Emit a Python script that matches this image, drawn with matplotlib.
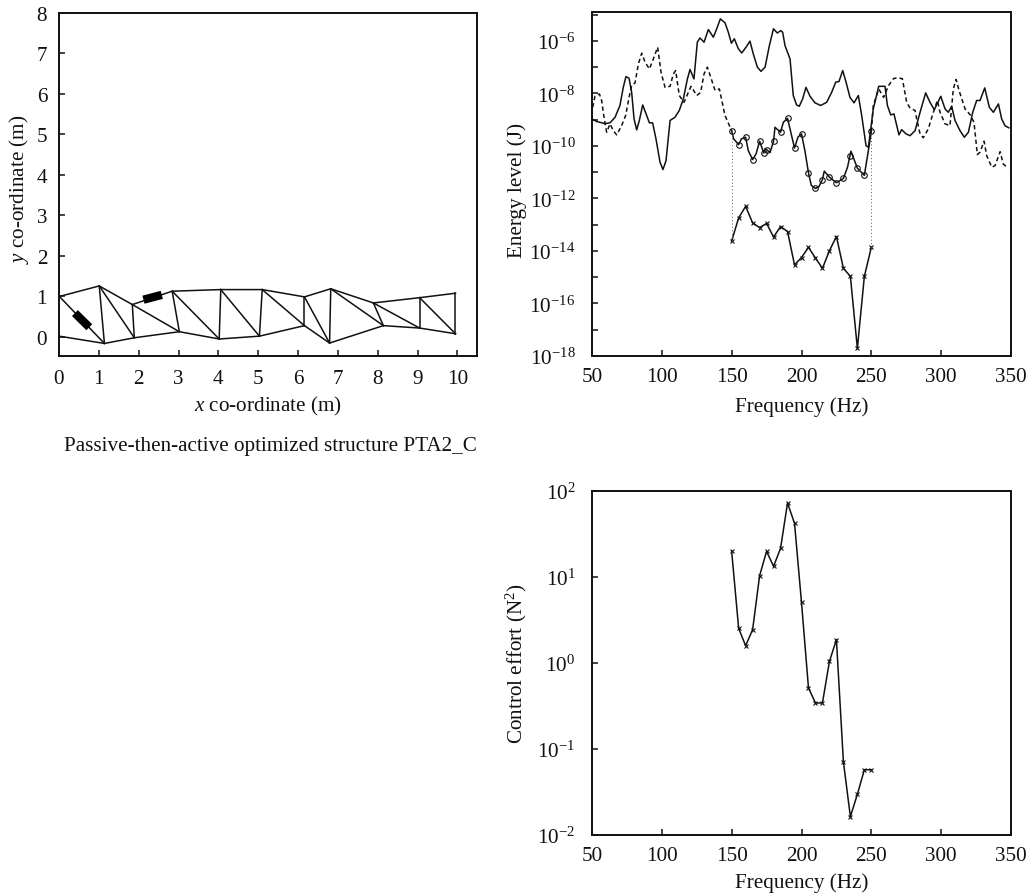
import numpy as np
import matplotlib
matplotlib.use("Agg")
import matplotlib.pyplot as plt
from matplotlib.ticker import FixedLocator, NullLocator, FuncFormatter

plt.rcParams['font.family'] = ['Liberation Serif', 'DejaVu Serif']
plt.rcParams['mathtext.fontset'] = 'custom'
plt.rcParams['mathtext.rm'] = 'Liberation Serif'
plt.rcParams['mathtext.it'] = 'Liberation Serif:italic'
plt.rcParams['mathtext.default'] = 'regular'

# --- structure (m)
top_x = [0.01, 1.01, 1.84, 2.84, 4.06, 5.10, 6.16, 6.82, 7.89, 9.05, 9.95]
top_y = [1.00, 1.26, 0.80, 1.13, 1.17, 1.17, 0.99, 1.19, 0.84, 0.97, 1.08]
bot_x = [0.00, 1.14, 1.89, 3.02, 4.02, 5.03, 6.16, 6.79, 8.14, 9.05, 9.95]
bot_y = [0.02, -0.16, -0.02, 0.13, -0.05, 0.02, 0.28, -0.15, 0.28, 0.22, 0.08]
act_x = [[0.40, 0.76], [2.12, 2.58]]
act_y = [[0.59, 0.24], [0.92, 1.04]]

# --- energy curves (log10 J)
solid_f = [50, 53.3, 59.3, 62.9, 66.5, 70, 72.4, 74.3, 76.5, 78.4, 80.1, 82, 83.9, 86.3, 88.7, 91.1, 93.4, 95.8, 98.7,
           100.8, 103, 105.9, 109.4, 112.5, 115.4, 118.3, 120.2, 123, 125.4, 127.3, 130.2, 133.3, 136.9, 139.3, 141.9,
           145.2, 147.6, 149.8, 151.9, 154.8, 157.2, 160.3, 163.1, 165.5, 168.4, 171, 173.9, 177, 179.9, 182.7, 185.1,
           186.5, 188.2, 191.8, 194.1, 196.5, 198.4, 200.8, 203.2, 206.1, 209.7, 213.7, 218, 221.6, 224.5, 226.8, 229.5,
           231.9, 234.7, 237.6, 240.7, 243.1, 246.2, 247.9, 251.4, 255.3, 259.8, 261.5, 263.9, 266.2, 269.8, 271.7, 274.8,
           277.7, 281.3, 284.9, 288.9, 292, 295.1, 299.7, 302.8, 305.1, 307.5, 309.9, 313.5, 316.6, 319.5, 322.6, 325.4,
           327.8, 331.2, 334.5, 337.4, 341, 343.3, 345.7, 348.4]
solid_e = [-8.97, -9.07, -9.15, -9.12, -8.91, -8.46, -7.77, -7.36, -7.42, -7.96, -8.97, -9.39, -9.03, -8.44, -8.78, -9.12,
           -9.12, -9.73, -10.62, -10.9, -10.56, -9.03, -8.91, -8.65, -8.21, -7.45, -7.09, -7.45, -6.05, -5.89, -6.05, -5.57,
           -5.86, -5.54, -5.16, -5.31, -5.67, -6.09, -5.92, -6.30, -6.46, -6.24, -6.01, -6.50, -7.0, -7.16, -7.0, -6.18,
           -5.54, -5.70, -5.61, -5.67, -6.18, -6.69, -8.08, -8.44, -8.49, -8.21, -7.77, -8.11, -8.36, -8.46, -8.34, -7.96,
           -7.57, -7.55, -7.13, -7.57, -8.15, -8.36, -8.08, -8.84, -9.99, -10.05, -8.59, -7.73, -7.73, -8.46, -8.82, -8.78,
           -9.58, -9.38, -9.54, -9.61, -9.42, -8.72, -7.98, -8.34, -8.62, -8.11, -8.59, -8.72, -8.49, -9.03, -9.42, -9.67,
           -9.48, -8.72, -8.27, -8.27, -7.79, -8.53, -8.72, -8.4, -8.97, -9.23, -9.31]

dash1_f = [50.5, 52.1, 55.3, 56.9, 58.6, 60.5, 62.9, 65.3, 67.7, 71.2, 74.1, 76.7, 78.4, 80.8, 83.2, 85.6, 88, 91.1, 93.9,
           97, 99.4, 102.3, 105.9, 108.2, 109.9, 112.5, 115.9, 118.5, 120.9, 125, 127.8, 130.2, 132.6, 135, 138.1, 141.2,
           145.2, 150]
dash1_e = [-8.53, -8.11, -8.02, -8.27, -8.91, -9.48, -9.16, -9.42, -9.58, -9.23, -8.84, -8.11, -7.70, -7.6, -6.88, -6.47,
           -6.81, -7.07, -6.69, -6.24, -7.19, -7.77, -7.73, -7.26, -7.13, -8.08, -8.34, -8.02, -7.73, -8.08, -7.96, -7.26,
           -7.0, -7.38, -7.89, -7.83, -8.84, -9.42]

dash2_f = [250, 251.4, 255.3, 258.8, 262.2, 265.8, 268.6, 272.2, 275.3, 277.7, 281.3, 283, 284.9, 287.2, 290.8, 294.4, 297.3,
           299.2, 302.8, 306.3, 308.7, 310.7, 312.8, 317.1, 320.7, 323.5, 325.9, 327.8, 330.7, 332.6, 336.2, 338.6, 342.2,
           344.5, 348.1]
dash2_e = [-9.45, -8.46, -7.83, -8.15, -7.71, -7.44, -7.40, -7.44, -8.34, -8.56, -8.65, -9.10, -9.54, -9.69, -9.35, -8.72,
           -8.27, -8.72, -9.16, -9.23, -7.83, -7.47, -7.89, -8.59, -8.81, -9.10, -10.33, -10.24, -9.82, -10.37, -10.81,
           -10.75, -10.22, -10.69, -10.85]

circ_line_f = [150, 151.4, 155, 157, 160, 161.9, 165, 167.5, 170, 173, 174, 175, 177.5, 180, 181, 185, 187, 190, 192,
               195, 197.5, 200, 202.5, 205, 207, 210, 212.5, 215, 216.3, 220, 225, 230, 233, 235.4, 240, 245, 247.5, 250]
circ_line_e = [-9.42, -9.73, -9.95, -9.73, -9.67, -10.18, -10.52, -10.30, -9.82, -10.27, -10.10, -10.14, -10.25, -9.82,
               -9.29, -9.48, -9.10, -8.95, -9.40, -10.08, -9.66, -9.54, -10.20, -11.03, -11.50, -11.62, -11.55, -11.28,
               -10.96, -11.19, -11.40, -11.24, -10.80, -10.20, -10.85, -11.12, -10.30, -9.45]
circ_f = [150, 155, 160, 165, 170, 173, 175, 180, 185, 190, 195, 200, 205, 210, 215, 220, 225, 230, 235, 240, 245, 250]
circ_e = [-9.42, -9.95, -9.67, -10.52, -9.82, -10.27, -10.14, -9.82, -9.48, -8.95, -10.08, -9.54, -11.03, -11.62, -11.28,
          -11.19, -11.40, -11.24, -10.39, -10.85, -11.12, -9.45]

cross_f = list(range(150, 255, 5))
cross_e = [-13.62, -12.74, -12.30, -12.93, -13.11, -12.95, -13.47, -13.07, -13.26, -14.53, -14.25, -13.86, -14.27, -14.66,
           -13.99, -13.45, -14.66, -14.97, -17.71, -14.97, -13.86]

# --- control effort (log10 N^2)
effort_f = list(range(150, 255, 5))
effort_e = [1.298, 0.403, 0.201, 0.387, 1.015, 1.298, 1.124, 1.333, 1.860, 1.624, 0.705, -0.291, -0.465, -0.465, 0.019,
            0.271, -1.148, -1.787, -1.527, -1.241, -1.241]

W, H = 1036, 895
fig = plt.figure(figsize=(W / 100, H / 100), dpi=100)


def make_axes(l, t, r, b):
    return fig.add_axes([l / W, 1 - b / H, (r - l) / W, (b - t) / H])


FS = 15.2
ink = '#111111'


def style(ax, xpad, ypad):
    for s in ax.spines.values():
        s.set_linewidth(1.4)
        s.set_color(ink)
    ax.tick_params(which='major', direction='in', length=4.5, width=1.1, labelsize=FS, top=False, right=False,
                   colors=ink)
    ax.tick_params(axis='x', which='major', pad=xpad)
    ax.tick_params(axis='y', which='major', pad=ypad)
    ax.tick_params(which='minor', length=0)


# structure
ax1 = make_axes(59, 14, 477, 357)
ax1.set_xlim(0, 10.49)
ax1.set_ylim(-0.47, 8)
ax1.set_xticks(range(0, 11))
ax1.set_yticks(range(0, 9))
lw = 1.1
ax1.plot(top_x, top_y, color=ink, lw=lw)
ax1.plot(bot_x, bot_y, color=ink, lw=lw)
for i in range(1, len(top_x)):
    ax1.plot([top_x[i], bot_x[i]], [top_y[i], bot_y[i]], color=ink, lw=lw)
for i in range(len(top_x) - 1):
    ax1.plot([top_x[i], bot_x[i + 1]], [top_y[i], bot_y[i + 1]], color=ink, lw=lw)
for xs, ys in zip(act_x, act_y):
    ax1.plot(xs, ys, color='black', lw=6, solid_capstyle='butt')
style(ax1, 9, 8.5)
ax1.set_xlabel(r'$\it{x}$ co-ordinate (m)', fontsize=FS, color=ink, labelpad=5)
ax1.set_ylabel(r'$\it{y}$ co-ordinate (m)', fontsize=FS, color=ink)
ax1.yaxis.set_label_coords((31 - 59) / 418, 0.49)
fig.text(270.5 / W, 1 - 447 / H, 'Passive-then-active optimized structure PTA2_C', fontsize=FS, color=ink,
         ha='center', va='center')

logfmt = FuncFormatter(lambda v, p: r'$10^{%d}$' % round(np.log10(v)))
every2 = FuncFormatter(lambda v, p: (r'$10^{%d}$' % round(np.log10(v))) if round(np.log10(v)) % 2 == 0 else '')

# energy
ax2 = make_axes(592, 13, 1011, 357)
ax2.set_yscale('log')
ax2.set_xlim(50, 350)
ax2.set_ylim(1e-18, 10 ** (-4.9))
ax2.set_xticks(range(50, 351, 50))
ax2.yaxis.set_major_locator(FixedLocator([10.0 ** k for k in range(-18, -4)]))
ax2.yaxis.set_major_formatter(every2)
ax2.yaxis.set_minor_locator(NullLocator())
ax2.plot(solid_f, 10.0 ** np.array(solid_e), color=ink, lw=1.1)
dash = dict(color=ink, lw=1.1, dashes=(2.8, 2))
ax2.plot(dash1_f, 10.0 ** np.array(dash1_e), **dash)
ax2.plot(dash2_f, 10.0 ** np.array(dash2_e), **dash)
ax2.plot(circ_line_f, 10.0 ** np.array(circ_line_e), color=ink, lw=1.1)
ax2.plot(circ_f, 10.0 ** np.array(circ_e), ls='none', marker='o', ms=4, mfc='none', mec=ink, mew=0.8)
ax2.plot(cross_f, 10.0 ** np.array(cross_e), color=ink, lw=1.1, marker='x', ms=3.5, mew=0.8)
for k_f, a, b in [(cross_f[0], cross_e[0], circ_e[0]), (cross_f[-1], cross_e[-1], circ_e[-1])]:
    ax2.plot([k_f, k_f], [10.0 ** a, 10.0 ** b], color='#555555', lw=0.7, ls=(0, (1, 2.5)))
style(ax2, 8, 12)
ax2.set_xlabel('Frequency (Hz)', fontsize=FS, color=ink, labelpad=7)
ax2.set_ylabel('Energy level (J)', fontsize=FS, color=ink)
ax2.yaxis.set_label_coords((527 - 592) / 419, 0.485)

# effort
ax3 = make_axes(592, 492, 1011, 836)
ax3.set_yscale('log')
ax3.set_xlim(50, 350)
ax3.set_ylim(1e-2, 1e2)
ax3.set_xticks(range(50, 351, 50))
ax3.yaxis.set_major_locator(FixedLocator([10.0 ** k for k in range(-2, 3)]))
ax3.yaxis.set_major_formatter(logfmt)
ax3.yaxis.set_minor_locator(NullLocator())
ax3.plot(effort_f, 10.0 ** np.array(effort_e), color=ink, lw=1.1, marker='x', ms=3.5, mew=0.8)
style(ax3, 8, 12)
ax3.set_xlabel('Frequency (Hz)', fontsize=FS, color=ink, labelpad=5)
ax3.set_ylabel(r'Control effort (N$^2$)', fontsize=FS, color=ink)
ax3.yaxis.set_label_coords((529 - 592) / 419, 0.5)

fig.savefig('out.png', dpi=100)
